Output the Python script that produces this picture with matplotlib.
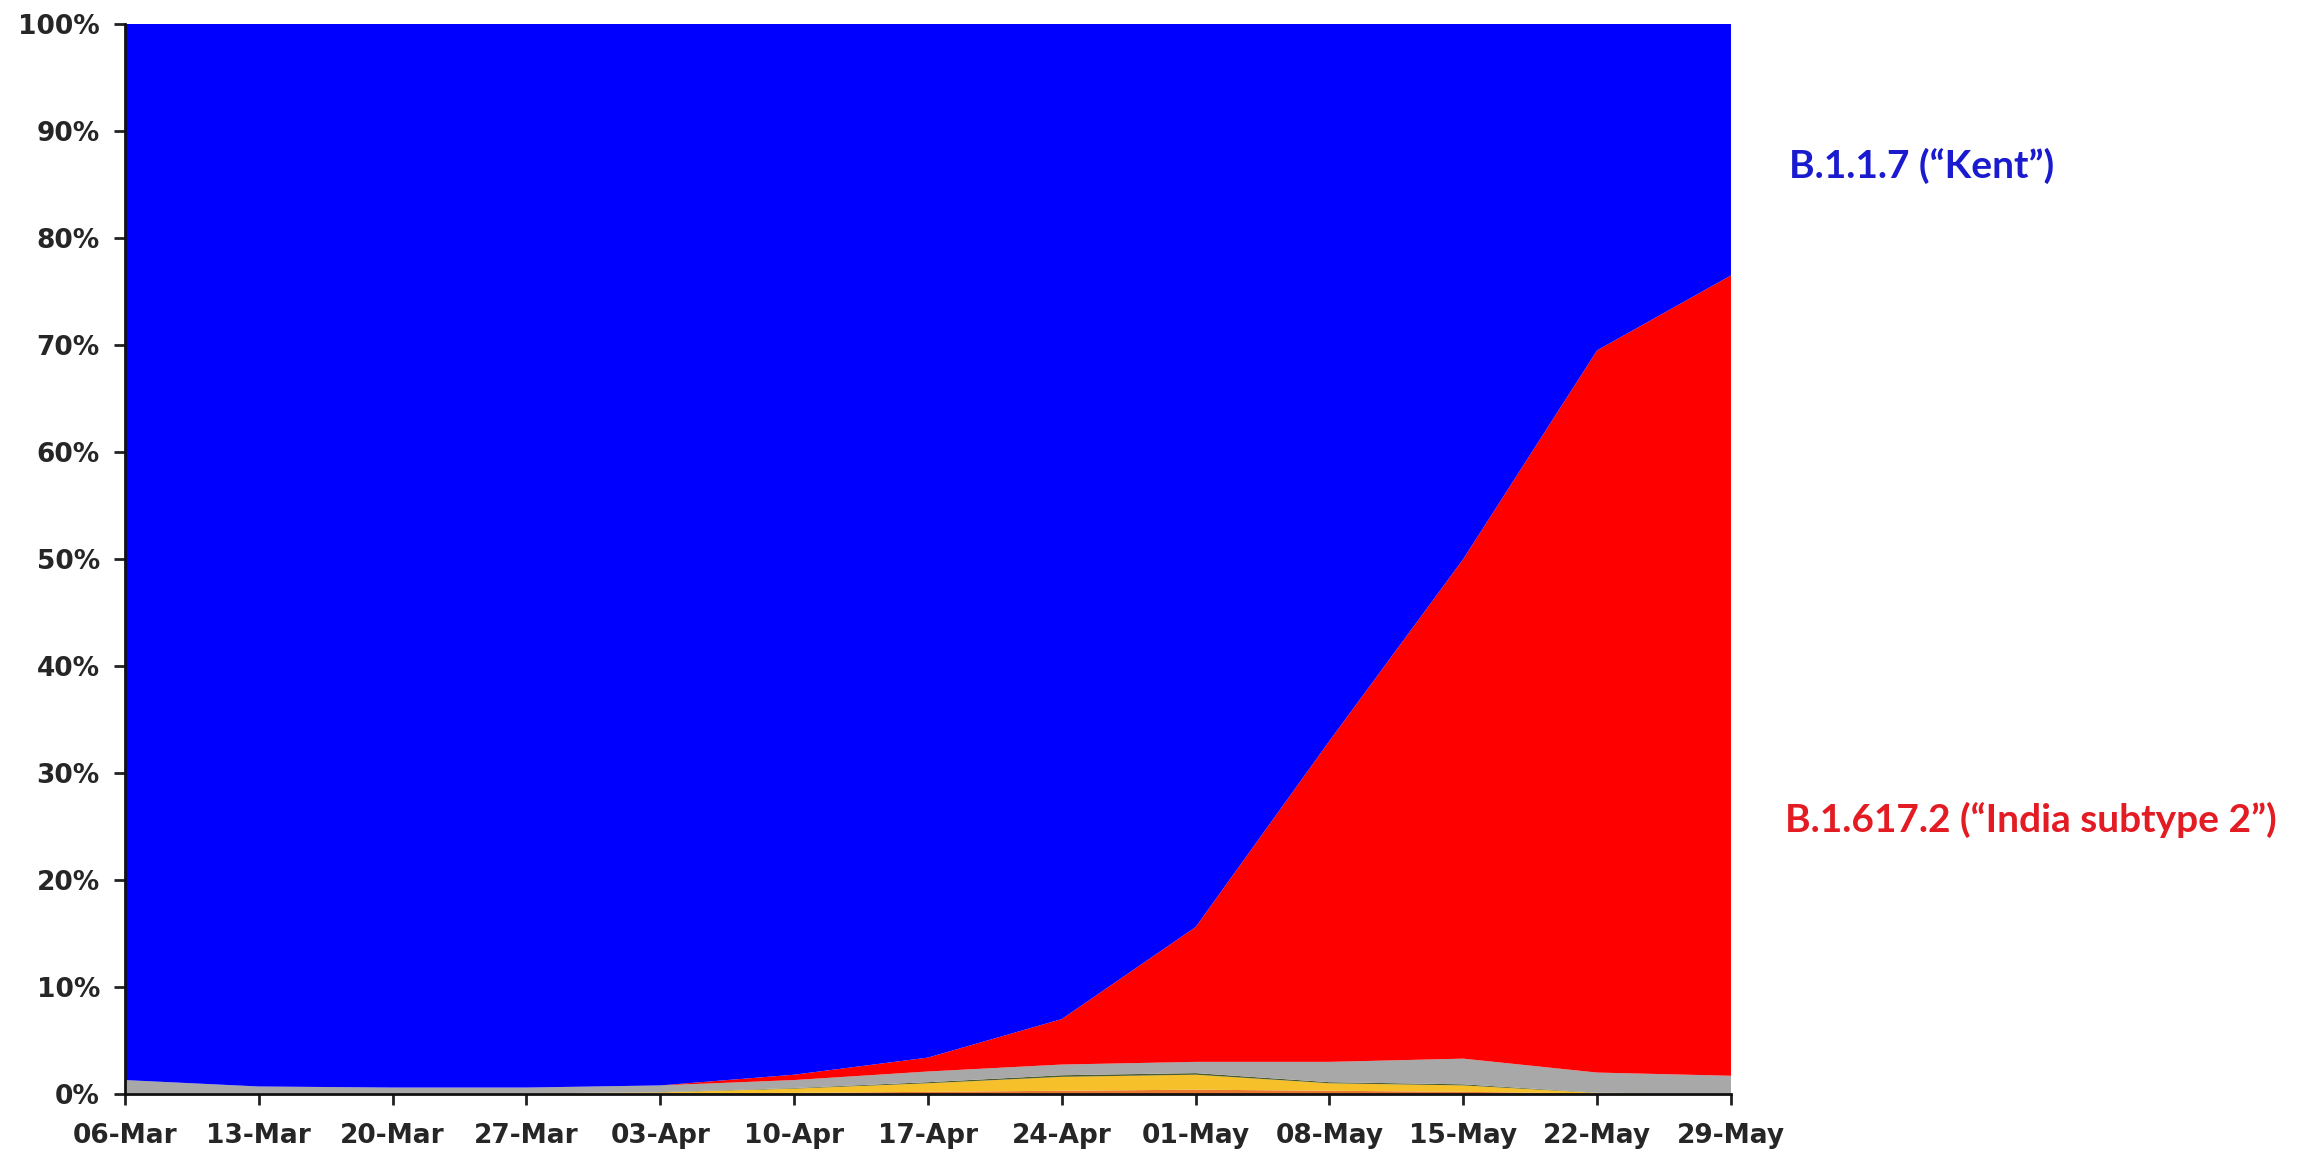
import matplotlib
matplotlib.use("Agg")
import matplotlib.pyplot as plt
import numpy as np

dates = ["06-Mar", "13-Mar", "20-Mar", "27-Mar", "03-Apr", "10-Apr", "17-Apr",
         "24-Apr", "01-May", "08-May", "15-May", "22-May", "29-May"]
# percentage share per variant (stack order bottom -> top)
orange = [0.05, 0.05, 0.05, 0.05, 0.05, 0.10, 0.20, 0.30, 0.40, 0.30, 0.20, 0.05, 0.00]
yellow = [0.00, 0.00, 0.00, 0.00, 0.10, 0.40, 0.80, 1.30, 1.40, 0.70, 0.60, 0.05, 0.00]
olive  = [0.00, 0.00, 0.00, 0.00, 0.02, 0.05, 0.10, 0.15, 0.15, 0.10, 0.10, 0.02, 0.00]
gray   = [1.25, 0.65, 0.55, 0.55, 0.63, 0.75, 1.00, 1.00, 1.05, 1.90, 2.40, 1.88, 1.70]
red    = [0.00, 0.00, 0.00, 0.00, 0.00, 0.50, 1.30, 4.25, 12.6, 30.0, 46.7, 67.5, 74.8]
yticks = [0, 10, 20, 30, 40, 50, 60, 70, 80, 90, 100]

lower = np.array(orange) + np.array(yellow) + np.array(olive) + np.array(gray) + np.array(red)
blue = list(100 - lower)

plt.rcParams['font.family'] = ['Lato', 'DejaVu Sans']
fig = plt.figure(figsize=(23, 11.58), dpi=100)
ax = fig.add_axes([0.0543, 0.0553, 0.6983, 0.924])
x = np.arange(len(dates))
ax.stackplot(x, orange, yellow, olive, gray, red, blue,
             colors=['#E8782F', '#F5C02A', '#4B5A2A', '#A8A8A8', '#FF0000', '#0000FF'],
             linewidth=0)
ax.set_xlim(0, len(dates) - 1)
ax.set_ylim(0, 100)
ax.set_xticks(x)
ax.set_xticklabels(dates, fontsize=19, fontweight='bold', color='#262626',
                   family=['DejaVu Sans'])
ax.set_yticks(yticks)
ax.set_yticklabels([f"{v}%" for v in yticks], fontsize=19, fontweight='bold',
                   color='#262626', family=['DejaVu Sans'])
for s in ['top', 'right']:
    ax.spines[s].set_visible(False)
for s in ['left', 'bottom']:
    ax.spines[s].set_linewidth(2)
    ax.spines[s].set_color('#111111')
ax.tick_params(axis='both', direction='out', length=8, width=2, color='#222222')
ax.tick_params(axis='x', pad=13)
ax.tick_params(axis='y', pad=10)

fig.text(0.778, 0.8566, "B.1.1.7 (\u201cKent\u201d)", color='#1A1ACF', fontsize=28,
         fontweight='bold', ha='left', va='center')
fig.text(0.776, 0.2919, "B.1.617.2 (\u201cIndia subtype 2\u201d)", color='#E31B23', fontsize=28,
         fontweight='bold', ha='left', va='center')

fig.savefig("out.png", dpi=100)
